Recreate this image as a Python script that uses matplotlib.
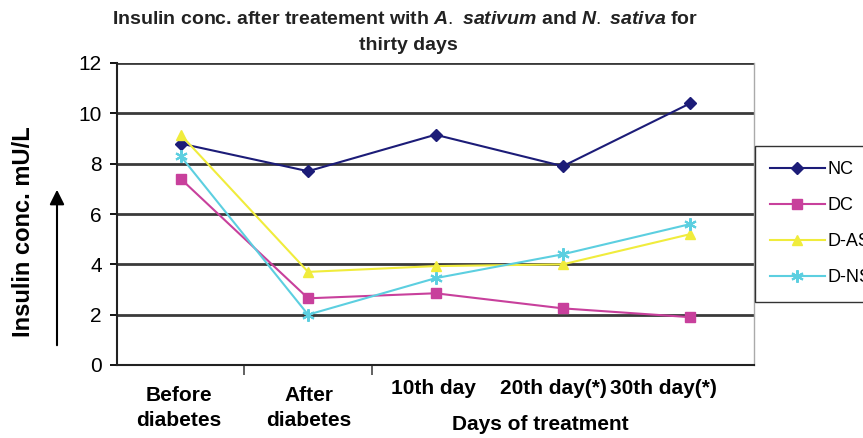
import matplotlib
matplotlib.use('Agg')
import matplotlib.pyplot as plt
from matplotlib.lines import Line2D
from matplotlib.transforms import offset_copy

plt.rcParams['font.family'] = ['Liberation Sans', 'DejaVu Sans']
plt.rcParams['mathtext.fontset'] = 'custom'
plt.rcParams['mathtext.it'] = 'Liberation Sans:italic:bold'
plt.rcParams['mathtext.rm'] = 'Liberation Sans'

# data
days = ['Before\ndiabetes', 'After\ndiabetes', '10th day', '20th day(*)', '30th day(*)']
nc = [8.8, 7.7, 9.15, 7.9, 10.4]
dc = [7.4, 2.65, 2.85, 2.25, 1.9]
d_as = [9.15, 3.7, 3.93, 4.0, 5.2]
d_ns = [8.3, 2.0, 3.45, 4.4, 5.6]
group_names = ['NC', 'DC', 'D-AS', 'D-NS']

W, H = 863, 438
fig = plt.figure(figsize=(W / 100, H / 100), dpi=100)
ax = fig.add_axes([117 / W, 73 / H, 637 / W, 302 / H])

x = list(range(len(days)))
styles = [
    dict(color='#1c1c78', marker='D', ms=6.5),
    dict(color='#c8409c', marker='s', ms=7.5),
    dict(color='#f0ec3c', marker='^', ms=7.5),
    dict(color='#5ccfe0', marker=(6, 2, 0), ms=9, mew=1.5),
]
for vals, st in zip([nc, dc, d_as, d_ns], styles):
    ax.plot(x, vals, lw=1.5, zorder=3, **st)

ax.set_xlim(-0.5, 4.5)
ax.set_ylim(0, 12)
ax.set_yticks(range(0, 13, 2))
ax.yaxis.grid(True, color='#3a3a3a', lw=2)
ax.set_axisbelow(True)
ax.tick_params(axis='y', direction='out', length=5, width=1.3, labelsize=15, pad=6)
ax.set_xticks([0.5, 1.5])
ax.set_xticklabels([])
ax.tick_params(axis='x', direction='out', length=7, width=1.3, color='#555555')
for s in ['left', 'bottom']:
    ax.spines[s].set_color('#222222')
    ax.spines[s].set_linewidth(1.5)
ax.spines['top'].set_visible(False)
ax.spines['right'].set_color('#aaaaaa')
ax.spines['right'].set_linewidth(1)

# category labels (pasted below the axis in the original)
label_dx = [-2, 1, -2, -9, -27]
label_dy = [-21, -21, -14, -14, -14]
for i, lab in enumerate(days):
    tr = offset_copy(ax.get_xaxis_transform(), fig=fig,
                     x=label_dx[i] * 0.72, y=label_dy[i] * 0.72, units='points')
    ax.text(i, 0, lab, transform=tr, ha='center', va='top', fontsize=15,
            fontweight='bold', linespacing=1.4)

fig.text(540 / W, 1 - 425 / H, 'Days of treatment', ha='center', va='center',
         fontsize=15, fontweight='bold')

fig.text(24 / W, 1 - 232 / H, 'Insulin conc. mU/L', rotation=90, ha='center',
         va='center', fontsize=17, fontweight='bold')
ax.annotate('', xy=(57, H - 187), xytext=(57, H - 348), xycoords='figure pixels',
            textcoords='figure pixels',
            arrowprops=dict(arrowstyle='-|>', color='black', lw=1.5, mutation_scale=22))

fig.text(405 / W, 1 - 19 / H,
         r'Insulin conc. after treatement with $\mathit{A.}$ $\mathit{sativum}$ and $\mathit{N.}$ $\mathit{sativa}$ for',
         ha='center', va='center', fontsize=14, fontweight='bold', color='#222222')
fig.text(408 / W, 1 - 45 / H, 'thirty days', ha='center', va='center', fontsize=14,
         fontweight='bold', color='#222222')

# legend runs off the right edge, as in the original
handles = [Line2D([], [], lw=1.5, **st) for st in styles]
leg = fig.legend(handles, group_names, loc='upper left', bbox_to_anchor=(755 / W, 1 - 146 / H),
                 frameon=True, fancybox=False, edgecolor='black', borderaxespad=0,
                 fontsize=13, handlelength=3.0, handletextpad=0.15, labelspacing=1.05,
                 borderpad=0.85)
leg.get_frame().set_linewidth(1)

fig.savefig('out.png', dpi=100)
